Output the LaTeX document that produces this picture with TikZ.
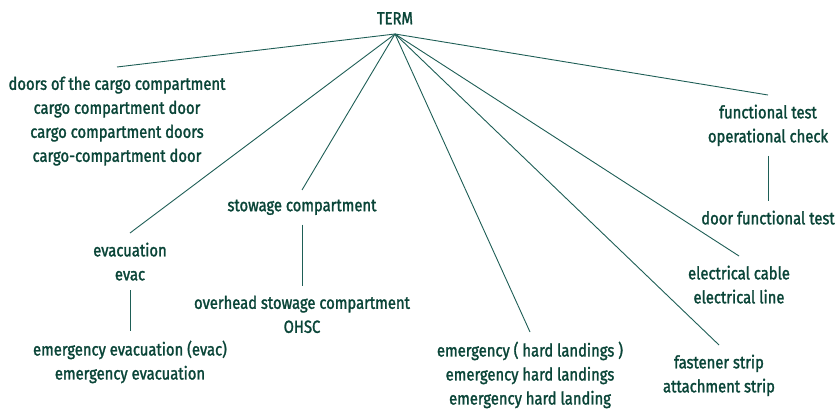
\documentclass[tikz,border=0pt]{standalone}
\usepackage{fontspec}
\setmainfont{Fira Sans}[FakeStretch=0.845,FakeBold=1.6]
\definecolor{txt}{HTML}{0A4538}
\definecolor{ln}{HTML}{1E5E56}
\begin{document}
\begin{tikzpicture}[x=1pt,y=-1pt,
  lbl/.style={align=center, inner xsep=0pt, inner ysep=9.5pt, text=txt,
    font=\fontsize{17.5}{24}\selectfont},
  conn/.style={draw=ln, line width=0.9pt}]
\useasboundingbox (0,0) rectangle (835,409);
\node[lbl,anchor=south] (term) at (395,34) {TERM};
\node[lbl,anchor=north] (doors) at (117,67) {doors of the cargo compartment\\cargo compartment door\\cargo compartment doors\\cargo-compartment door};
\node[lbl,anchor=north] (evac) at (130,233) {evacuation\\evac};
\node[lbl,anchor=north] (emevac) at (130,331) {emergency evacuation (evac)\\emergency evacuation};
\node[lbl,anchor=north] (stow) at (302,190) {stowage compartment};
\node[lbl,anchor=north] (ohsc) at (302,286) {overhead stowage compartment\\OHSC};
\node[lbl,anchor=north] (hard) at (530,332) {emergency ( hard landings )\\emergency hard landings\\emergency hard landing};
\node[lbl,anchor=north] (fast) at (719,345) {fastener strip\\attachment strip};
\node[lbl,anchor=north] (elec) at (739,256) {electrical cable\\electrical line};
\node[lbl,anchor=north] (func) at (768,95) {functional test\\operational check};
\node[lbl,anchor=north] (dft) at (768,201) {door functional test};
\foreach \n in {doors,evac,stow,hard,fast,elec,func}
  \draw[conn] (term.south) -- (\n.north);
\draw[conn] (evac.south) -- (emevac.north);
\draw[conn] (stow.south) -- (ohsc.north);
\draw[conn] (func.south) -- (dft.north);
\end{tikzpicture}
\end{document}
